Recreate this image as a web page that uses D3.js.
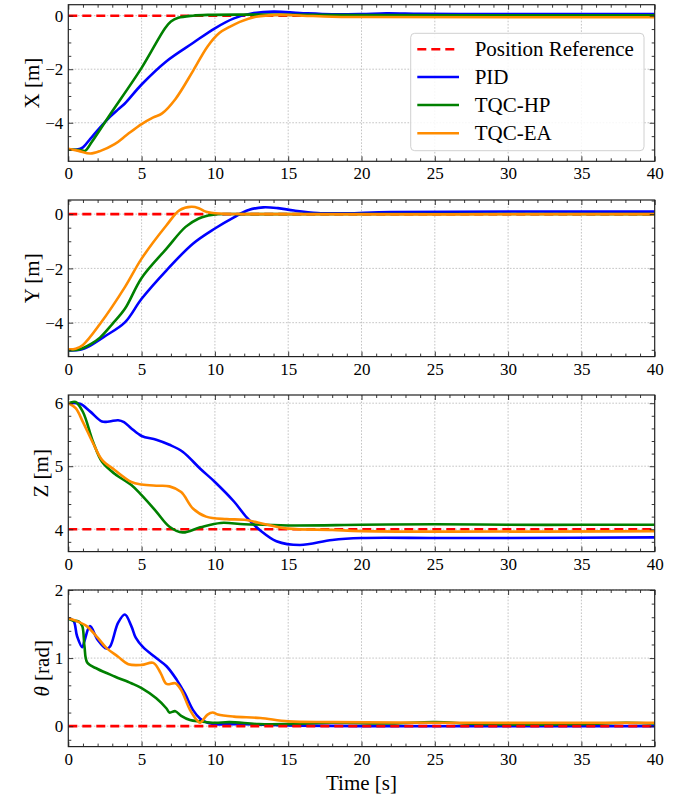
<!DOCTYPE html>
<html>
<head>
<meta charset="utf-8">
<script src="https://cdn.jsdelivr.net/npm/d3@7"></script>
<style>
  html, body { margin: 0; padding: 0; background: #fff; }
  svg { display: block; }
  text { font-family: "Liberation Serif", "DejaVu Serif", serif; fill: #000; }
</style>
</head>
<body>
<svg id="chart" width="688" height="798"></svg>
<script>
// ---- time axis ----
const timeDomain = [0, 40];
const timeTicks = [0, 5, 10, 15, 20, 25, 30, 35, 40];

// ---- series names and colours ----
const seriesNames = ["Position Reference", "PID", "TQC-HP", "TQC-EA"];
const seriesColors = ["#ff0000", "#0000ff", "#008000", "#ff8c00"];

// ---- X position [m] : [time, value] ----
const xRef = 0;
const xPID = [[0,-5.0],[0.6,-5.0],[1.0,-4.92],[1.5,-4.6],[2.16,-4.18],[2.84,-3.78],[3.4,-3.5],[3.86,-3.28],[5,-2.57],[6.7,-1.7],[8.5,-1.02],[10,-0.47],[11.3,-0.1],[12.5,0.08],[14,0.15],[15.8,0.1],[18,0.05],[20,0.06],[21.7,0.09],[24,0.07],[28,0.06],[32,0.06],[40,0.06]];
const xHP = [[0,-5.0],[0.8,-5.02],[1.14,-5.05],[1.6,-4.72],[2.84,-3.7],[5,-1.95],[6.6,-0.47],[7.0,-0.22],[7.5,-0.08],[8.5,0.0],[9.5,0.03],[12,0.04],[20,0.02],[40,0.01]];
const xEA = [[0,-4.97],[0.7,-5.05],[1.5,-5.15],[2.2,-5.05],[3.16,-4.8],[4,-4.45],[5,-4.05],[5.8,-3.8],[6.4,-3.65],[7.3,-3.12],[8.5,-2.07],[9.5,-1.15],[10.3,-0.65],[11,-0.42],[11.7,-0.23],[12.8,-0.04],[14.4,0.03],[16,0.0],[18,-0.04],[20,-0.05],[40,-0.06]];

// ---- Y position [m] ----
const yRef = 0;
const yPID = [[0,-5.02],[0.8,-5.0],[1.48,-4.85],[2.5,-4.5],[3.86,-3.99],[5,-3.12],[6.7,-2.07],[8.5,-1.09],[10,-0.53],[11.3,-0.12],[12.3,0.15],[13.3,0.25],[14.3,0.22],[15.4,0.13],[17,0.04],[19,0.03],[22,0.08],[40,0.09]];
const yHP = [[0,-5.02],[0.8,-4.98],[1.5,-4.8],[2.16,-4.55],[3.0,-4.05],[3.86,-3.49],[5,-2.35],[6.7,-1.27],[8.0,-0.47],[8.9,-0.16],[9.5,-0.06],[10,-0.01],[12,0.0],[40,0.0]];
const yEA = [[0,-4.98],[0.5,-4.96],[1.0,-4.82],[2.16,-4.05],[3.86,-2.69],[5,-1.64],[6.7,-0.41],[7.6,0.15],[8.4,0.27],[8.9,0.22],[9.4,0.09],[10.3,0.02],[12,0.0],[40,0.0]];

// ---- Z position [m] ----
const zRef = 4;
const zPID = [[0,6.0],[0.8,5.99],[1.48,5.87],[2.3,5.71],[2.8,5.71],[3.4,5.73],[3.8,5.7],[4.3,5.6],[5,5.48],[6,5.42],[6.9,5.34],[7.8,5.23],[9,4.96],[10,4.75],[11.3,4.44],[12.2,4.18],[13.1,3.98],[14.2,3.81],[15.8,3.75],[18,3.83],[20,3.86],[25,3.86],[30,3.86],[40,3.87]];
const zHP = [[0,6.0],[0.5,6.02],[1.0,5.86],[1.7,5.38],[2.3,5.07],[3.16,4.88],[4.3,4.7],[5,4.54],[6,4.28],[6.9,4.04],[7.8,3.95],[9,4.03],[10.4,4.1],[12,4.08],[15,4.06],[20,4.07],[25,4.08],[30,4.07],[35,4.07],[40,4.07]];
const zEA = [[0,6.0],[0.5,5.92],[1.0,5.7],[1.7,5.36],[2.3,5.1],[3.16,4.94],[4.3,4.75],[5,4.71],[6,4.69],[6.9,4.68],[7.7,4.59],[8.5,4.33],[9.4,4.2],[10.8,4.16],[12,4.15],[13.6,4.07],[15,4.01],[18,3.99],[20,3.97],[40,3.97]];

// ---- attitude theta [rad] ----
const thRef = 0;
const thPID = [[0,1.58],[0.35,1.55],[0.6,1.32],[0.95,1.16],[1.1,1.25],[1.48,1.47],[2,1.27],[2.6,1.14],[2.85,1.17],[3.4,1.52],[3.86,1.64],[4.3,1.47],[4.6,1.3],[5.1,1.16],[6,1.0],[6.7,0.88],[7.4,0.68],[7.95,0.48],[8.5,0.24],[9,0.11],[9.5,0.05],[10,0.03],[12,0.03],[15,0.01],[20,0.0],[40,0.0]];
const thHP = [[0,1.58],[0.35,1.55],[0.7,1.54],[0.95,1.47],[1.1,1.18],[1.3,0.93],[2,0.84],[3.16,0.73],[4.3,0.63],[5,0.56],[6,0.41],[6.7,0.26],[6.9,0.2],[7.3,0.22],[7.7,0.15],[8.3,0.09],[9,0.07],[10,0.05],[11,0.06],[13,0.03],[15,0.03],[18,0.05],[22,0.04],[25,0.06],[28,0.03],[35,0.03],[38,0.05],[40,0.04]];
const thEA = [[0,1.58],[0.5,1.55],[1.25,1.47],[2,1.3],[2.6,1.15],[3.4,1.02],[4.1,0.91],[5,0.9],[5.8,0.93],[6.3,0.78],[6.7,0.62],[7.3,0.63],[7.7,0.53],[8.3,0.24],[8.85,0.07],[9.0,0.05],[9.5,0.17],[9.85,0.2],[10.2,0.17],[11.3,0.14],[13.1,0.12],[15,0.07],[18,0.06],[25,0.05],[40,0.05]];

// ---- per-panel axis settings ----
const yDomains = [[-5.44, 0.41], [-5.25, 0.52], [3.645, 6.13], [-0.3, 2.0]];
const yTicks = [[-4, -2, 0], [-4, -2, 0], [4, 5, 6], [0, 1, 2]];
const yMinorStep = [0.5, 0.5, 0.2, 0.2];
const yLabels = [["X [m]"], ["Y [m]"], ["Z [m]"], ["θ", " [rad]"]];

const panels = [
  { ref: xRef, lines: [xPID, xHP, xEA], refOnTop: false },
  { ref: yRef, lines: [yPID, yHP, yEA], refOnTop: false },
  { ref: zRef, lines: [zPID, zHP, zEA], refOnTop: false },
  { ref: thRef, lines: [thPID, thHP, thEA], refOnTop: true }
];

// ---- layout ----
const plotLeft = 68.3, plotRight = 654.7;
const panelTops = [4.7, 200, 395, 590];
const panelH = 156.6;
const W = plotRight - plotLeft;

const svg = d3.select("#chart");
const fmt = d3.format("");

const x = d3.scaleLinear().domain(timeDomain).range([0, W]);
const xMinor = d3.range(timeDomain[0], timeDomain[1] + 0.001, 1).filter(v => !timeTicks.includes(v));

panels.forEach((p, i) => {
  const g = svg.append("g").attr("transform", `translate(${plotLeft},${panelTops[i]})`);
  const y = d3.scaleLinear().domain(yDomains[i]).range([panelH, 0]);
  const yt = yTicks[i];
  const st = yMinorStep[i];
  const yMinor = d3.range(Math.ceil(yDomains[i][0] / st) * st, yDomains[i][1], st)
    .map(v => Math.round(v * 1000) / 1000)
    .filter(v => !yt.some(t => Math.abs(t - v) < 1e-6));

  // clip
  const clipId = "clip" + i;
  g.append("clipPath").attr("id", clipId)
    .append("rect").attr("width", W).attr("height", panelH);

  // grid
  const grid = g.append("g").attr("stroke", "#b5b5b5").attr("stroke-width", 0.8)
    .attr("stroke-dasharray", "1.6,1.6");
  grid.selectAll(".gx").data(timeTicks.slice(1, -1)).join("line")
    .attr("x1", d => x(d)).attr("x2", d => x(d)).attr("y1", 0).attr("y2", panelH);
  grid.selectAll(".gy").data(yt).join("line")
    .attr("y1", d => y(d)).attr("y2", d => y(d)).attr("x1", 0).attr("x2", W);

  const lineGen = d3.line().x(d => x(d[0])).y(d => y(d[1])).curve(d3.curveCatmullRom.alpha(0.5));
  const plotG = g.append("g").attr("clip-path", `url(#${clipId})`);

  const drawRef = () => {
    plotG.append("path")
      .attr("d", lineGen([[timeDomain[0], p.ref], [timeDomain[1], p.ref]]))
      .attr("fill", "none").attr("stroke", seriesColors[0]).attr("stroke-width", 2.6)
      .attr("stroke-dasharray", "9,5");
  };
  if (!p.refOnTop) drawRef();
  p.lines.forEach((s, k) => {
    plotG.append("path").attr("d", lineGen(s))
      .attr("fill", "none").attr("stroke", seriesColors[k + 1])
      .attr("stroke-width", 2.6).attr("stroke-linejoin", "round");
  });
  if (p.refOnTop) drawRef();

  // axes (inward ticks on all four sides)
  const axB = g.append("g").attr("transform", `translate(0,${panelH})`)
    .call(d3.axisBottom(x).tickValues(timeTicks).tickFormat(fmt).tickSize(-5).tickPadding(6));
  g.append("g")
    .call(d3.axisTop(x).tickValues(timeTicks).tickFormat("").tickSize(-5));
  const axL = g.append("g")
    .call(d3.axisLeft(y).tickValues(yt).tickFormat(fmt).tickSize(-5).tickPadding(5));
  g.append("g").attr("transform", `translate(${W},0)`)
    .call(d3.axisRight(y).tickValues(yt).tickFormat("").tickSize(-5));

  // minor ticks
  g.append("g").attr("transform", `translate(0,${panelH})`)
    .call(d3.axisBottom(x).tickValues(xMinor).tickFormat("").tickSize(-3));
  g.append("g").call(d3.axisTop(x).tickValues(xMinor).tickFormat("").tickSize(-3));
  g.append("g").call(d3.axisLeft(y).tickValues(yMinor).tickFormat("").tickSize(-3));
  g.append("g").attr("transform", `translate(${W},0)`)
    .call(d3.axisRight(y).tickValues(yMinor).tickFormat("").tickSize(-3));

  g.selectAll(".domain").remove();
  g.selectAll(".tick line").attr("stroke", "#222").attr("stroke-width", 0.9);
  g.selectAll(".tick text").style("font-family", "'Liberation Serif', serif")
    .style("font-size", "17px").attr("fill", "#000");
  axB.selectAll(".tick text").attr("dy", "0.71em");
  axL.selectAll(".tick text").attr("dy", "0.34em");

  // frame
  g.append("rect").attr("width", W).attr("height", panelH)
    .attr("fill", "none").attr("stroke", "#222").attr("stroke-width", 1.2);

  // y label, placed just left of the widest tick label
  let maxW = 0;
  axL.selectAll(".tick text").each(function () { maxW = Math.max(maxW, this.getBBox().width); });
  const labX = -maxW - 11;
  const lab = g.append("text")
    .attr("transform", `translate(${labX},${panelH / 2}) rotate(-90)`)
    .attr("text-anchor", "middle")
    .style("font-size", "21px");
  yLabels[i].forEach(part => {
    const ts = lab.append("tspan").text(part);
    if (part === "θ") ts.style("font-style", "italic");
  });
});

// x-axis title
svg.append("text")
  .attr("x", plotLeft + W / 2).attr("y", 790)
  .attr("text-anchor", "middle")
  .style("font-size", "21px")
  .text("Time [s]");

// legend in the first panel
const legX = 410.7, legY = 33.3, legW = 233.3, legH = 117.4;
const leg = svg.append("g");
leg.append("rect").attr("x", legX).attr("y", legY).attr("width", legW).attr("height", legH)
  .attr("rx", 4).attr("ry", 4)
  .attr("fill", "#fff").attr("fill-opacity", 0.85)
  .attr("stroke", "#d0d0d0").attr("stroke-width", 1);
const rowY = [49.3, 77.0, 105.0, 133.3];
seriesNames.forEach((name, k) => {
  leg.append("line")
    .attr("x1", 417.3).attr("x2", 459).attr("y1", rowY[k]).attr("y2", rowY[k])
    .attr("stroke", seriesColors[k]).attr("stroke-width", 2.6)
    .attr("stroke-dasharray", k === 0 ? "9,5" : null);
  leg.append("text").attr("x", 474.7).attr("y", rowY[k]).attr("dy", "0.34em")
    .style("font-size", "21px").text(name);
});
</script>
</body>
</html>
